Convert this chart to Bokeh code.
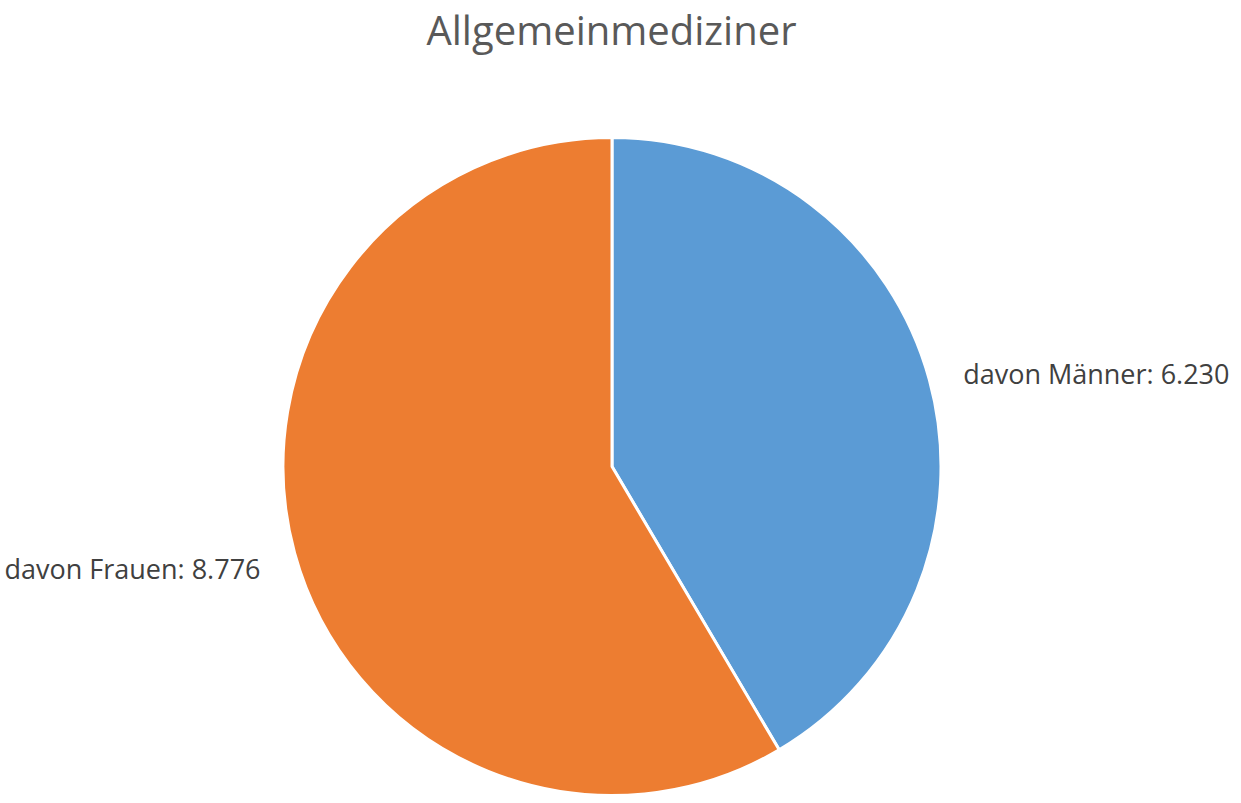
import math
from bokeh.plotting import figure
from bokeh.models import Range1d, ColumnDataSource
from bokeh.core.properties import value
from bokeh.embed import file_html
from bokeh.resources import INLINE

title = "Allgemeinmediziner"
categories = ["davon Männer", "davon Frauen"]
values = [6230, 8776]
colors = ["#5B9BD5", "#ED7D31"]

W, H = 1233, 795
p = figure(width=W, height=H, output_backend="svg", toolbar_location=None,
           x_range=Range1d(0, W), y_range=Range1d(0, H), min_border=0)
p.axis.visible = False
p.grid.visible = False
p.outline_line_color = None
p.background_fill_color = "white"

cx, cy, r = 611.5, 329, 329
total = sum(values)
starts, ends = [], []
a = math.pi / 2
for v in values:
    ang = 2 * math.pi * v / total
    starts.append(a)
    ends.append(a - ang)
    a -= ang

src = ColumnDataSource(dict(start=starts, end=ends, color=colors,
                            x=[cx] * len(values), y=[cy] * len(values)))
p.wedge(x="x", y="y", radius=r, start_angle="start", end_angle="end",
        direction="clock", fill_color="color", line_color="white",
        line_width=3, source=src)

def fmt(v):
    return f"{v:,}".replace(",", ".")

labels = [f"{c}: {fmt(v)}" for c, v in zip(categories, values)]
p.text(x=[1229], y=[422], text=[labels[0]], text_align="right",
       text_baseline="middle", text_font=value("Open Sans"),
       text_font_size="27px", text_color="#404040")
p.text(x=[4], y=[227], text=[labels[1]], text_align="left",
       text_baseline="middle", text_font=value("Open Sans"),
       text_font_size="27px", text_color="#404040")

p.text(x=[611], y=[766], text=[title], text_align="center",
       text_baseline="middle", text_font=value("Open Sans"),
       text_font_size="40px", text_color="#595959")

open("out.html", "w").write(file_html(p, INLINE))
